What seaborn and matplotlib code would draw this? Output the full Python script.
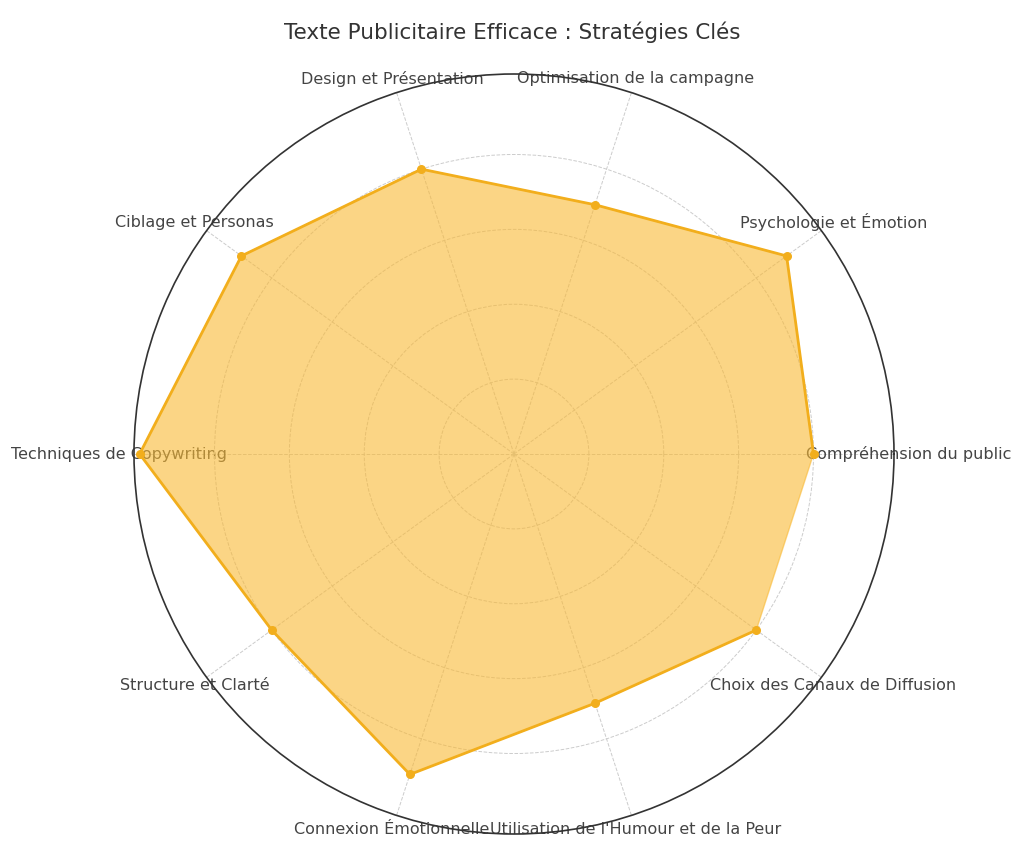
import numpy as np
import seaborn as sns
import matplotlib.pyplot as plt

categories = ["Compréhension du public", "Psychologie et Émotion", "Optimisation de la campagne",
              "Design et Présentation", "Ciblage et Personas", "Techniques de Copywriting",
              "Structure et Clarté", "Connexion Émotionnelle", "Utilisation de l'Humour et de la Peur",
              "Choix des Canaux de Diffusion"]
values = [8, 9, 7, 8, 9, 10, 8, 9, 7, 8]

sns.set_style("white")
plt.rcParams['font.family'] = ['DejaVu Sans']

angles = np.linspace(0, 2 * np.pi, len(categories), endpoint=False)
a = np.append(angles, angles[0])
v = np.append(values, values[0])

fig = plt.figure(figsize=(10.24, 8.47), dpi=100)
ax = fig.add_axes([134 / 1024, (847 - 454 - 380) / 847, 760 / 1024, 760 / 847], polar=True)
color = "#F2AE1C"
ax.fill(a, v, color="#F9B934", alpha=0.6, zorder=2)
sns.lineplot(x=a, y=v, ax=ax, color=color, linewidth=2, sort=False, zorder=3)
ax.scatter(angles, values, color=color, s=30, zorder=4)
ax.set_ylim(0, 10.15)
ax.set_yticks([2, 4, 6, 8])
ax.set_yticklabels([])
ax.set_xticks(angles)
ax.set_xticklabels(categories, fontsize=11.5, color="#444444")
ax.tick_params(axis='x', pad=0)
ax.grid(True, color="#cccccc", linestyle="--", linewidth=0.7)
ax.spines['polar'].set_color("#333333")
ax.spines['polar'].set_linewidth(1.2)
fig.text(0.5, 0.975, "Texte Publicitaire Efficace : Stratégies Clés", ha="center", va="top",
         fontsize=15.5, color="#333333")
fig.savefig("out.png", dpi=100)
